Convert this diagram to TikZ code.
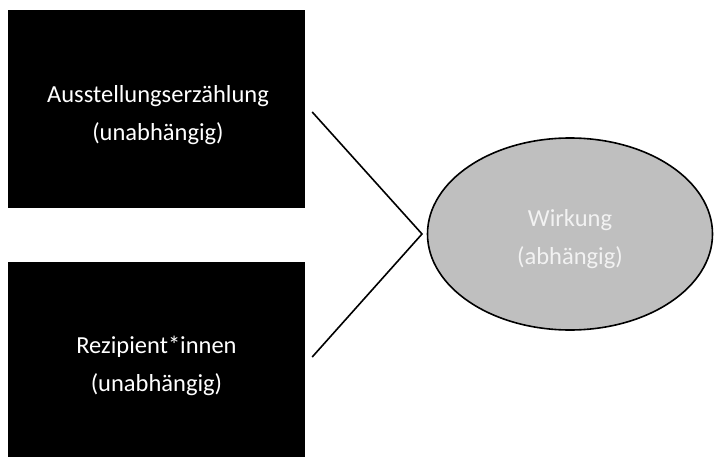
\documentclass[tikz,border=0pt]{standalone}
\usepackage{fontspec}
\setmainfont{Carlito}
\usepackage{tikz}
\usetikzlibrary{shapes.geometric}
\definecolor{wirkgray}{RGB}{191,191,191}
\definecolor{wirktext}{RGB}{242,242,242}

\begin{document}
\begin{tikzpicture}[x=1pt,y=-1pt,
		varbox/.style={fill=black,draw=none,minimum width=297pt,inner sep=0pt},
		vartext/.style={text=white,align=center,font=\fontsize{24.5}{38}\selectfont},
		effect/.style={ellipse,fill=wirkgray,draw=black,line width=1.6pt,minimum width=285pt,minimum height=192pt,inner sep=0pt}]
		
		\useasboundingbox (0,0) rectangle (714,457);
		
		\node[varbox,minimum height=198pt] (narrative) at (156.5,109) {} ;
		\node[varbox,minimum height=198pt] (recipients) at (156.5,361) {} ;
		
		\node[vartext] (narrative_t) at (158,115) {Ausstellungserzählung\\(unabhängig)} ;
		\node[vartext] (recipients_t) at (156.5,366) {Rezipient*innen\\(unabhängig)} ;
		
		\node[effect] (effect) at (570,234) {} ;
		\node[vartext,text=wirktext] (effect_t) at (570,239) {Wirkung\\(abhängig)} ;
		
		\coordinate (tip) at (422,234) ;
		
		\draw[line width=1.6pt] ([xshift=7pt,yshift=-3pt]narrative.east) -- (tip) -- ([xshift=7pt,yshift=4pt]recipients.east) ;
	\end{tikzpicture}
\end{document}
